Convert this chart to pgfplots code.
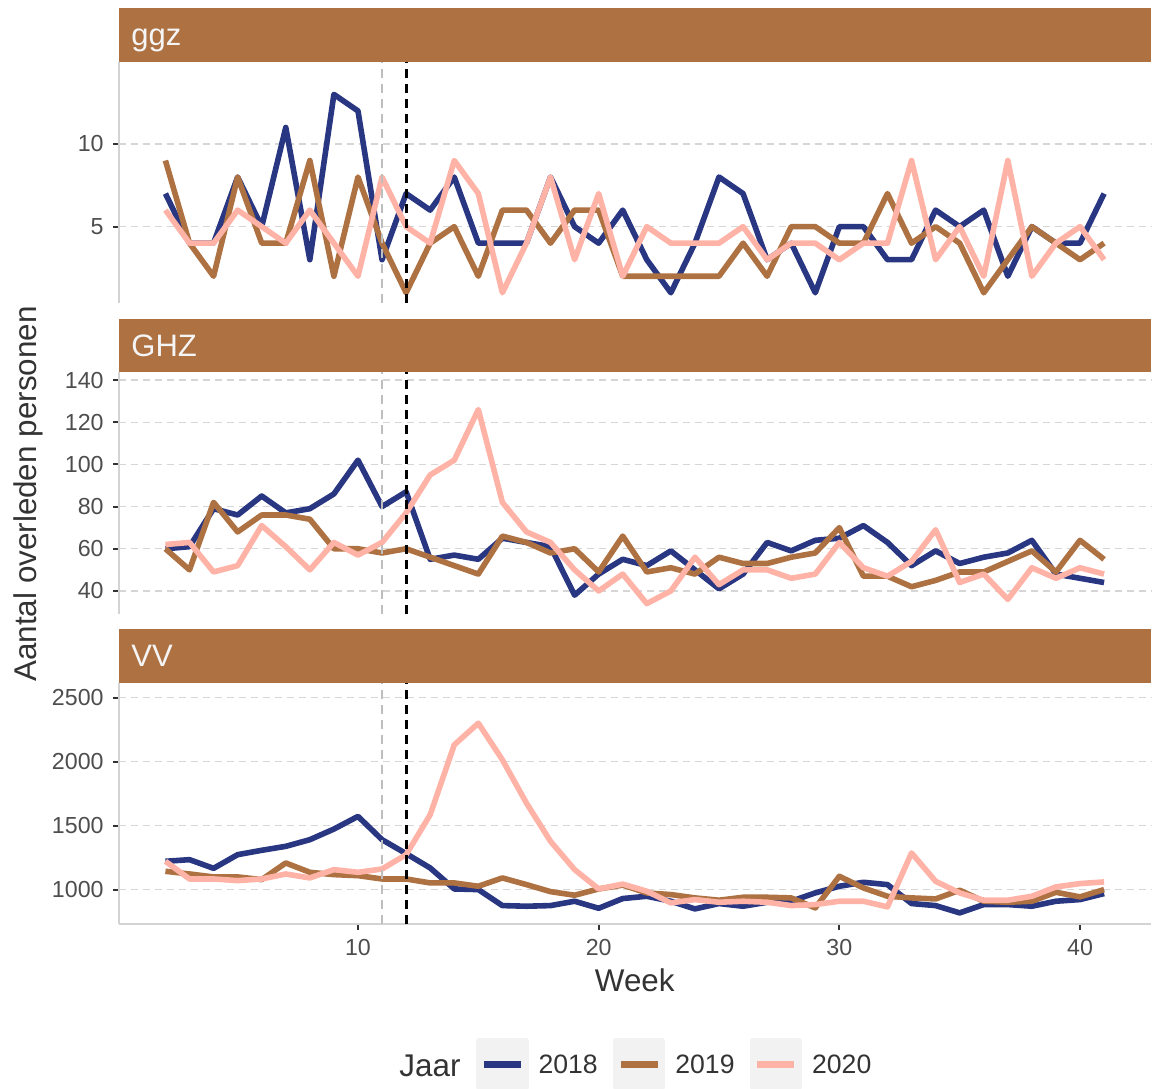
\documentclass[border=0pt]{standalone}
\usepackage{fontspec}
\setmainfont{Liberation Sans}
\usepackage{pgfplots}
\pgfplotsset{compat=1.18}
\usepackage{pgfplotstable}

\definecolor{c18}{RGB}{41,54,129}
\definecolor{c19}{RGB}{173,113,66}
\definecolor{c20}{RGB}{255,179,167}
\definecolor{gridc}{RGB}{214,214,214}
\definecolor{axc}{RGB}{211,211,211}
\definecolor{vgray}{RGB}{190,190,190}
\definecolor{ticklab}{RGB}{77,77,77}
\definecolor{titc}{RGB}{51,51,51}
\definecolor{stript}{RGB}{245,245,245}

\pgfplotstableread{
w y18 y19 y20
2 7 9 6
3 4 4 4
4 4 2 4
5 8 8 6
6 5 4 5
7 11 4 4
8 3 9 6
9 13 2 4
10 12 8 2
11 3 4 8
12 7 1 5
13 6 4 4
14 8 5 9
15 4 2 7
16 4 6 1
17 4 6 4
18 8 4 8
19 5 6 3
20 4 6 7
21 6 2 2
22 3 2 5
23 1 2 4
24 4 2 4
25 8 2 4
26 7 4 5
27 3 2 3
28 4 5 4
29 1 5 4
30 5 4 3
31 5 4 4
32 3 7 4
33 3 4 9
34 6 5 3
35 5 4 5
36 6 1 2
37 2 3 9
38 5 5 2
39 4 4 4
40 4 3 5
41 7 4 3
}\ggz

\pgfplotstableread{
w y18 y19 y20
2 60 60 62
3 61 50 63
4 79 82 49
5 76 68 52
6 85 76 71
7 77 76 61
8 79 74 50
9 86 60 63
10 102 60 57
11 80 58 63
12 87 60 77
13 55 56 95
14 57 52 102
15 55 48 126
16 65 66 82
17 63 63 68
18 61 58 63
19 38 60 50
20 48 49 40
21 55 66 48
22 52 49 34
23 59 51 40
24 50 48 56
25 41 56 43
26 48 53 50
27 63 53 50
28 59 56 46
29 64 58 48
30 65 70 63
31 71 47 51
32 63 47 47
33 52 42 54
34 59 45 69
35 53 49 44
36 56 49 48
37 58 54 36
38 64 59 51
39 48 49 46
40 46 64 51
41 44 55 48
}\ghz

\pgfplotstableread{
w y18 y19 y20
2 1221 1143 1221
3 1234 1122 1083
4 1166 1099 1083
5 1273 1099 1070
6 1307 1078 1083
7 1338 1208 1122
8 1390 1135 1091
9 1473 1117 1156
10 1572 1109 1135
11 1390 1083 1161
12 1281 1083 1273
13 1169 1052 1585
14 1005 1052 2131
15 1000 1026 2300
16 875 1091 2014
17 870 1039 1676
18 875 984 1377
19 909 956 1156
20 854 1005 1005
21 930 1035 1043
22 948 974 987
23 909 961 896
24 849 935 922
25 891 917 901
26 870 940 909
27 901 940 901
28 909 935 875
29 974 857 883
30 1026 1104 909
31 1057 1013 909
32 1039 948 865
33 891 935 1286
34 875 927 1065
35 818 995 974
36 883 909 917
37 883 901 917
38 870 909 948
39 909 979 1021
40 922 943 1047
41 969 1000 1060
}\vv

\pgfplotsset{
  /pgf/number format/assume math mode=true,
  /pgf/number format/1000 sep={},
  panel/.style={
    scale only axis, width=516.25pt, height=120.75pt,
    xmin=0.05, xmax=42.95,
    anchor=north west,
    axis y line*=left,
    axis line style={-, draw=axc, line width=1pt},
    tick align=outside, major tick length=2.75pt,
    tick style={draw=titc, line width=1pt},
    ymajorgrids,
    major grid style={draw=gridc, line width=0.7pt, dash pattern=on 3.5pt off 2.5pt},
    ticklabel style={font=\fontsize{11.6}{13}\selectfont, text=ticklab, inner sep=0pt},
    yticklabel style={anchor=east, xshift=-4.5pt},
    xticklabel style={anchor=north, yshift=-4.5pt},
  },
  s18/.style={c18, line width=2.8pt, line join=round},
  s19/.style={c19, line width=2.8pt, line join=round},
  s20/.style={c20, line width=2.8pt, line join=round},
  vla/.style={vgray, line width=1.4pt, dash pattern=on 4.5pt off 3pt, forget plot},
  vlb/.style={black, line width=1.4pt, dash pattern=on 4.5pt off 3pt, forget plot},
}

\begin{document}
\begin{tikzpicture}
\useasboundingbox (0pt,0pt) rectangle (577.5pt,-544pt);

% strips
\fill[c19] (59.25pt,-4pt) rectangle (575.5pt,-30.75pt);
\fill[c19] (59.25pt,-159.25pt) rectangle (575.5pt,-186pt);
\fill[c19] (59.25pt,-314.5pt) rectangle (575.5pt,-341.25pt);
\node[anchor=base west, inner sep=0pt, text=stript, font=\fontsize{15.5}{18}\selectfont] at (65.5pt,-22.75pt) {ggz};
\node[anchor=base west, inner sep=0pt, text=stript, font=\fontsize{15.5}{18}\selectfont] at (65.5pt,-178pt) {GHZ};
\node[anchor=base west, inner sep=0pt, text=stript, font=\fontsize{15.5}{18}\selectfont] at (65.5pt,-333.25pt) {VV};

% ggz
\begin{axis}[panel, at={(59.25pt,-30.75pt)}, axis x line=none,
  ymin=0.38, ymax=14.99, ytick={5,10}]
\addplot[s18] table[x=w,y=y18] {\ggz};
\addplot[s19] table[x=w,y=y19] {\ggz};
\addplot[s20] table[x=w,y=y20] {\ggz};
\addplot[vla] coordinates {(11,0.38) (11,14.99)};
\addplot[vlb] coordinates {(12,0.38) (12,14.99)};
\end{axis}

% GHZ
\begin{axis}[panel, at={(59.25pt,-186pt)}, axis x line=none,
  ymin=29.3, ymax=143.8, ytick={40,60,80,100,120,140}]
\addplot[s18] table[x=w,y=y18] {\ghz};
\addplot[s19] table[x=w,y=y19] {\ghz};
\addplot[s20] table[x=w,y=y20] {\ghz};
\addplot[vla] coordinates {(11,29.3) (11,143.8)};
\addplot[vlb] coordinates {(12,29.3) (12,143.8)};
\end{axis}

% VV
\begin{axis}[panel, at={(59.25pt,-341.25pt)}, axis x line*=bottom,
  ymin=731, ymax=2618, ytick={1000,1500,2000,2500}, xtick={10,20,30,40},
  legend style={at={(0.34625,-0.5797)}, anchor=west, draw=none, fill=none,
    inner sep=0pt, outer sep=0pt, legend columns=-1,
    font=\fontsize{13.3}{15}\selectfont, text=titc,
    nodes={inner sep=0pt, text height=9.5pt, text depth=0.5pt},
    /tikz/every odd column/.append style={column sep=5pt},
    /tikz/every even column/.append style={column sep=7.5pt}},
  legend image code/.code={\fill[black!5] (0pt,-11.5pt) rectangle (23.5pt,11.5pt);
    \draw[#1, line width=3.5pt] (2.5pt,0pt) -- (21pt,0pt);}]
\addplot[s18] table[x=w,y=y18] {\vv};
\addlegendentry{2018}
\addplot[s19] table[x=w,y=y19] {\vv};
\addlegendentry{2019}
\addplot[s20] table[x=w,y=y20] {\vv};
\addlegendentry{2020}
\addplot[vla] coordinates {(11,731) (11,2618)};
\addplot[vlb] coordinates {(12,731) (12,2618)};
\end{axis}

% titles
\node[anchor=base, inner sep=0pt, text=titc, font=\fontsize{15.7}{18}\selectfont] at (317.4pt,-495.85pt) {Week};
\node[rotate=90, anchor=base, inner sep=0pt, text=titc, font=\fontsize{15.7}{18}\selectfont] at (18.25pt,-247pt) {Aantal overleden personen};
\node[anchor=base west, inner sep=0pt, text=titc, font=\fontsize{15.7}{18}\selectfont] at (199.5pt,-538.25pt) {Jaar};
\end{tikzpicture}
\end{document}
